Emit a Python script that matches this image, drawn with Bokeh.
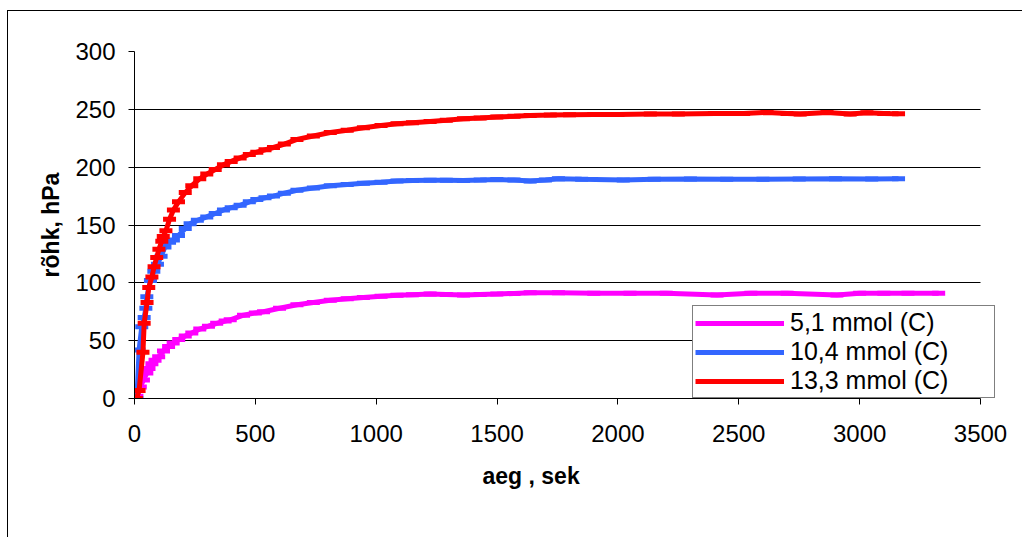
from bokeh.plotting import figure
from bokeh.models import Legend, LegendItem, FixedTicker, Title
from bokeh.embed import file_html
from bokeh.resources import INLINE

# ---- data ----
t_51 = [0, 10, 24, 37, 51, 60, 72, 85, 100, 120, 141, 160, 183, 210, 237, 270, 306, 340,
        375, 396, 451, 500, 534, 600, 672, 740, 810, 880, 947, 1020, 1086, 1150, 1223,
        1290, 1361, 1430, 1499, 1570, 1637, 1754, 1900, 2050, 2200, 2410, 2550, 2700,
        2906, 3000, 3100, 3200, 3327]
p_51 = [0, 2, 10, 16, 22, 26, 30, 33, 36, 41, 45, 48, 51, 54, 56.7, 60, 62.5, 65,
        67, 68, 72, 74, 75, 78, 81, 83, 85, 86.3, 87.4, 88.5, 89.2, 89.8, 90.3,
        89.9, 89.4, 89.9, 90.3, 90.8, 91.4, 91.4, 91, 90.9, 90.9, 89.4, 90.9, 90.9,
        89.4, 90.9, 90.9, 91, 90.9]

t_104 = [0, 10, 19, 30, 40, 47, 51, 66, 80, 95, 110, 126, 145, 161, 182, 210, 230, 260,
         299, 334, 368, 400, 437, 475, 506, 540, 575, 620, 672, 740, 810, 880, 947, 1020,
         1086, 1150, 1223, 1290, 1361, 1430, 1499, 1570, 1637, 1700, 1754, 1850, 2022,
         2150, 2300, 2450, 2600, 2750, 2900, 3050, 3161]
p_104 = [0, 0, 42, 62, 70, 78, 88, 102, 110, 116, 123, 131, 135, 137, 141, 147, 151, 154,
         157, 160, 163, 165, 167, 170, 172, 173.5, 175, 177.5, 180, 182, 184, 185, 186, 187,
         188, 188.5, 188.7, 188.6, 188.4, 188.8, 189.3, 188.8, 188.1, 189, 189.9, 189.5,
         189, 189.5, 189.8, 189.6, 189.5, 189.8, 189.9, 189.7, 189.9]

t_133 = [0, 8, 19, 35, 40, 52, 59, 72, 81, 92, 101, 113, 119, 130, 145, 161, 182, 210,
         237, 270, 299, 334, 368, 400, 437, 475, 506, 540, 575, 620, 672, 740, 810, 880,
         947, 1020, 1086, 1150, 1223, 1290, 1361, 1430, 1499, 1570, 1637, 1720, 1800,
         1900, 2000, 2134, 2250, 2400, 2520, 2617, 2700, 2754, 2865, 2961, 3030, 3100,
         3161]
p_133 = [0, 0, 7, 40, 65, 83, 96, 105, 114, 122, 129, 136, 140, 145, 155, 163, 170, 178,
         184, 190, 194, 198, 202, 205, 208, 211, 213, 215, 217, 220, 224, 227, 230, 232,
         234, 236, 237.5, 238.5, 239.5, 240.5, 241.8, 242.5, 243.3, 244, 244.7, 245, 245.3,
         245.5, 245.6, 245.9, 246, 246.3, 246.5, 247.3, 246.5, 245.9, 247.3, 245.9, 247,
         246.5, 246.2]

series_names = ["5,1 mmol (C)", "10,4 mmol (C)", "13,3 mmol (C)"]
series_colors = ["#FF00FF", "#3366FF", "#FF0000"]
x_ticks = [0, 500, 1000, 1500, 2000, 2500, 3000, 3500]
y_ticks = [0, 50, 100, 150, 200, 250, 300]
grid_ticks = [50, 100, 150, 200, 250]
x_title = "aeg , sek"
y_title = "rõhk, hPa"

FONT = "Liberation Sans"
X_END = 3562.1

p = figure(width=1015, height=527, x_range=(0, X_END), y_range=(0, 300),
           output_backend="svg", toolbar_location=None,
           min_border_left=126, min_border_right=28, min_border_top=40,
           min_border_bottom=140)
p.styles = {"margin-left": "7px", "margin-top": "10px",
            "border-left": "1px solid #000", "border-top": "1px solid #000"}
p.outline_line_color = None
p.background_fill_color = "white"
p.border_fill_color = "white"

p.xgrid.visible = False
p.ygrid.ticker = FixedTicker(ticks=grid_ticks)
p.ygrid.cross_bounds = (0, 3500)
p.ygrid.grid_line_color = "#000000"
p.ygrid.grid_line_width = 1

p.xaxis.ticker = FixedTicker(ticks=x_ticks)
p.xaxis.bounds = (0, 3500)
p.yaxis.ticker = FixedTicker(ticks=y_ticks)
for ax in (p.xaxis[0], p.yaxis[0]):
    ax.axis_line_color = "#000000"
    ax.axis_line_width = 1
    ax.major_tick_in = 0
    ax.major_tick_out = 6
    ax.major_tick_line_color = "#000000"
    ax.minor_tick_out = 0
    ax.minor_tick_in = 0
    ax.major_label_text_font = FONT
    ax.major_label_text_font_size = "24px"
    ax.major_label_text_color = "#000000"
p.yaxis.major_label_standoff = 13
p.xaxis.major_label_standoff = 20

p.yaxis.axis_label = y_title
p.yaxis.axis_label_text_font = FONT
p.yaxis.axis_label_text_font_size = "23px"
p.yaxis.axis_label_text_font_style = "bold"
p.yaxis.axis_label_text_color = "#000000"
p.yaxis.axis_label_standoff = 8

# x-axis title, offset to the left of the plot centre as in the original
p.add_layout(Title(text=x_title, align="left", offset=348, standoff=32,
                   text_font=FONT, text_font_size="23px", text_font_style="bold",
                   text_color="#000000"), "below")

renderers = []
for t, v, c in [(t_51, p_51, series_colors[0]), (t_104, p_104, series_colors[1]),
                (t_133, p_133, series_colors[2])]:
    lr = p.line(t, v, line_color=c, line_width=5)
    sr = p.scatter(t, v, marker="dash", size=13, line_color=c, line_width=5)
    renderers.append((lr, sr))

legend = Legend(items=[LegendItem(label=n, renderers=list(r))
                       for n, r in zip(series_names, renderers)],
                location=(558, 0), orientation="vertical",
                padding=2, spacing=0, margin=0,
                glyph_width=89, glyph_height=20, label_standoff=6,
                label_width=202, label_height=26,
                label_text_font=FONT, label_text_font_size="25px",
                label_text_color="#000000",
                border_line_color="#000000", border_line_width=1,
                background_fill_color="white", background_fill_alpha=1)
p.add_layout(legend, "center")

open("out.html", "w").write(file_html(p, INLINE))
